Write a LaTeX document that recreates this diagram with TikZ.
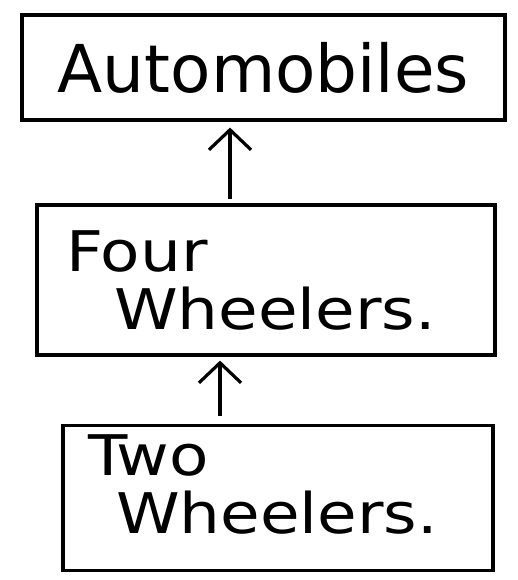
\documentclass[tikz,border=0pt]{standalone}
\usepackage{fontspec}
\setmainfont{DejaVu Sans}
\newfontfamily\widefont[FakeStretch=1.15]{DejaVu Sans}
\usetikzlibrary{arrows.meta}
\begin{document}
\begin{tikzpicture}[x=1pt,y=1pt,
  boxstyle/.style={draw=black, line width=3.2pt, rectangle, inner sep=0pt},
  uparrow/.style={line width=3.2pt, -{Straight Barb[length=20pt,width=42pt,line width=3.2pt]}},
  bigtext/.style={font=\fontsize{66}{70}\selectfont},
  twoline/.style={font=\widefont\fontsize{56}{58}\selectfont, align=left}
]
\useasboundingbox (0,0) rectangle (517,580);
\node[boxstyle, minimum width=483pt, minimum height=105pt, bigtext] (box1) at (263.5,512.5) {Automobiles};
\node[boxstyle, minimum width=458pt, minimum height=150pt, twoline, text width=400pt] (box2) at (266,300) {Four\\\hspace*{48pt}Wheelers.};
\node[boxstyle, minimum width=430pt, minimum height=145pt, twoline, text width=380pt, text depth=86pt] (box3) at (278,82) {Two\\\hspace*{28pt}Wheelers.};
\coordinate (a1) at (230,0);
\coordinate (a2) at (220,0);
\draw[uparrow] ([yshift=4pt]box2.north -| a1) -- ([yshift=-6pt]box1.south -| a1);
\draw[uparrow] ([yshift=8pt]box3.north -| a2) -- ([yshift=-4pt]box2.south -| a2);
\end{tikzpicture}
\end{document}
